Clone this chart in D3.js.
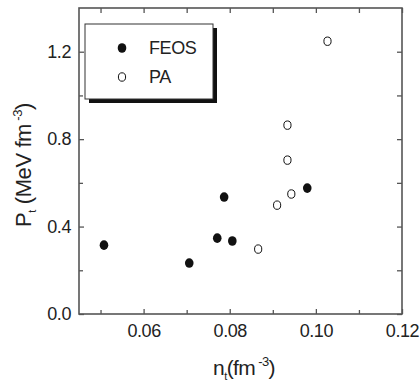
<!DOCTYPE html>
<html><head><meta charset="utf-8">
<script src="https://cdn.jsdelivr.net/npm/d3@7"></script>
<style>body{margin:0;background:#fff}text{font-family:"Liberation Sans Narrow","Liberation Sans",Arial,sans-serif}</style>
</head><body>
<script>
const feosX = [0.0508, 0.0706, 0.0771, 0.0806, 0.0787, 0.0980];
const feosY = [0.315, 0.233, 0.347, 0.334, 0.535, 0.576];
const paX = [0.1027, 0.0934, 0.0934, 0.0943, 0.0910, 0.0866];
const paY = [1.248, 0.864, 0.704, 0.549, 0.498, 0.297];
const xTicks = [0.06, 0.08, 0.10, 0.12];
const yTicks = [0.0, 0.4, 0.8, 1.2];
const xMinor = [0.05, 0.07, 0.09, 0.11];
const yMinor = [0.2, 0.6, 1.0];
const legendNames = ["FEOS", "PA"];

const W = 420, H = 383;
const L = 79, R = 402, T = 8, B = 314;
const svg = d3.select("body").append("svg").attr("width", W).attr("height", H);
const x = d3.scaleLinear().domain([0.045, 0.12]).range([L, R]);
const y = d3.scaleLinear().domain([0, 1.4]).range([B, T]);
const axCol = "#555";

function styleAxis(g, showLabels) {
  g.select(".domain").remove();
  g.selectAll("line").attr("stroke", axCol).attr("stroke-width", 1.3);
  if (!showLabels) g.selectAll("text").remove();
  else g.selectAll("text").attr("fill", "#222").attr("font-size", 18).attr("letter-spacing", -0.4);
}
svg.append("g").attr("transform", `translate(0,${B})`)
  .call(d3.axisBottom(x).tickValues(xTicks).tickSize(-5).tickPadding(10).tickFormat(d3.format(".2f")))
  .call(g => styleAxis(g, true));
svg.append("g").attr("transform", `translate(0,${B})`)
  .call(d3.axisBottom(x).tickValues(xMinor).tickSize(-4)).call(g => styleAxis(g, false));
svg.append("g").attr("transform", `translate(0,${T})`)
  .call(d3.axisTop(x).tickValues(xTicks.concat(xMinor)).tickSize(-5)).call(g => styleAxis(g, false));
svg.append("g").attr("transform", `translate(${L},0)`)
  .call(d3.axisLeft(y).tickValues(yTicks).tickSize(-5).tickPadding(8).tickFormat(d3.format(".1f")))
  .call(g => styleAxis(g, true));
svg.append("g").attr("transform", `translate(${L},0)`)
  .call(d3.axisLeft(y).tickValues(yMinor).tickSize(-4)).call(g => styleAxis(g, false));
svg.append("g").attr("transform", `translate(${R},0)`)
  .call(d3.axisRight(y).tickValues(yTicks.concat(yMinor)).tickSize(-5)).call(g => styleAxis(g, false));

svg.append("rect").attr("x", L).attr("y", T).attr("width", R - L).attr("height", B - T)
  .attr("fill", "none").attr("stroke", axCol).attr("stroke-width", 1.6);

// legend
const lg = svg.append("g");
lg.append("rect").attr("x", 89).attr("y", 28).attr("width", 128).attr("height", 75).attr("fill", "#111");
lg.append("rect").attr("x", 85).attr("y", 24).attr("width", 128).attr("height", 75)
  .attr("fill", "#fff").attr("stroke", "#333").attr("stroke-width", 1);
lg.append("ellipse").attr("cx", 122).attr("cy", 48).attr("rx", 4.3).attr("ry", 4.8).attr("fill", "#111");
lg.append("ellipse").attr("cx", 122).attr("cy", 77).attr("rx", 3.6).attr("ry", 4.2).attr("fill", "#fff").attr("stroke", "#111").attr("stroke-width", 1);
lg.selectAll("text.lt").data(legendNames).join("text").attr("class", "lt")
  .attr("x", 149).attr("y", (d, i) => 54 + i * 29).attr("font-size", 18).attr("letter-spacing", -0.4).attr("fill", "#222").text(d => d);

// data
svg.append("g").selectAll("ellipse").data(d3.range(feosX.length)).join("ellipse")
  .attr("cx", i => x(feosX[i])).attr("cy", i => y(feosY[i])).attr("rx", 4.3).attr("ry", 4.8).attr("fill", "#111");
svg.append("g").selectAll("ellipse").data(d3.range(paX.length)).join("ellipse")
  .attr("cx", i => x(paX[i])).attr("cy", i => y(paY[i])).attr("rx", 3.6).attr("ry", 4.2)
  .attr("fill", "#fff").attr("stroke", "#111").attr("stroke-width", 1);

// axis titles
const xt = svg.append("text").attr("x", 244).attr("y", 375).attr("text-anchor", "middle").attr("font-size", 21).attr("letter-spacing", -0.6).attr("fill", "#222");
xt.append("tspan").text("n");
xt.append("tspan").attr("font-size", 11).attr("dy", 5).text("t");
xt.append("tspan").attr("dy", -5).text("(fm");
xt.append("tspan").attr("font-size", 13).attr("dy", -9).text(" -3");
xt.append("tspan").attr("dy", 9).text(")");

const yt = svg.append("text").attr("transform", "translate(31,165) rotate(-90)").attr("text-anchor", "middle").attr("font-size", 22).attr("letter-spacing", -0.4).attr("fill", "#222");
yt.append("tspan").text("P");
yt.append("tspan").attr("font-size", 11).attr("dy", 5).text("t");
yt.append("tspan").attr("dy", -5).text(" (MeV fm");
yt.append("tspan").attr("font-size", 13).attr("dy", -9).text(" -3");
yt.append("tspan").attr("dy", 9).text(")");
</script>
</body></html>
